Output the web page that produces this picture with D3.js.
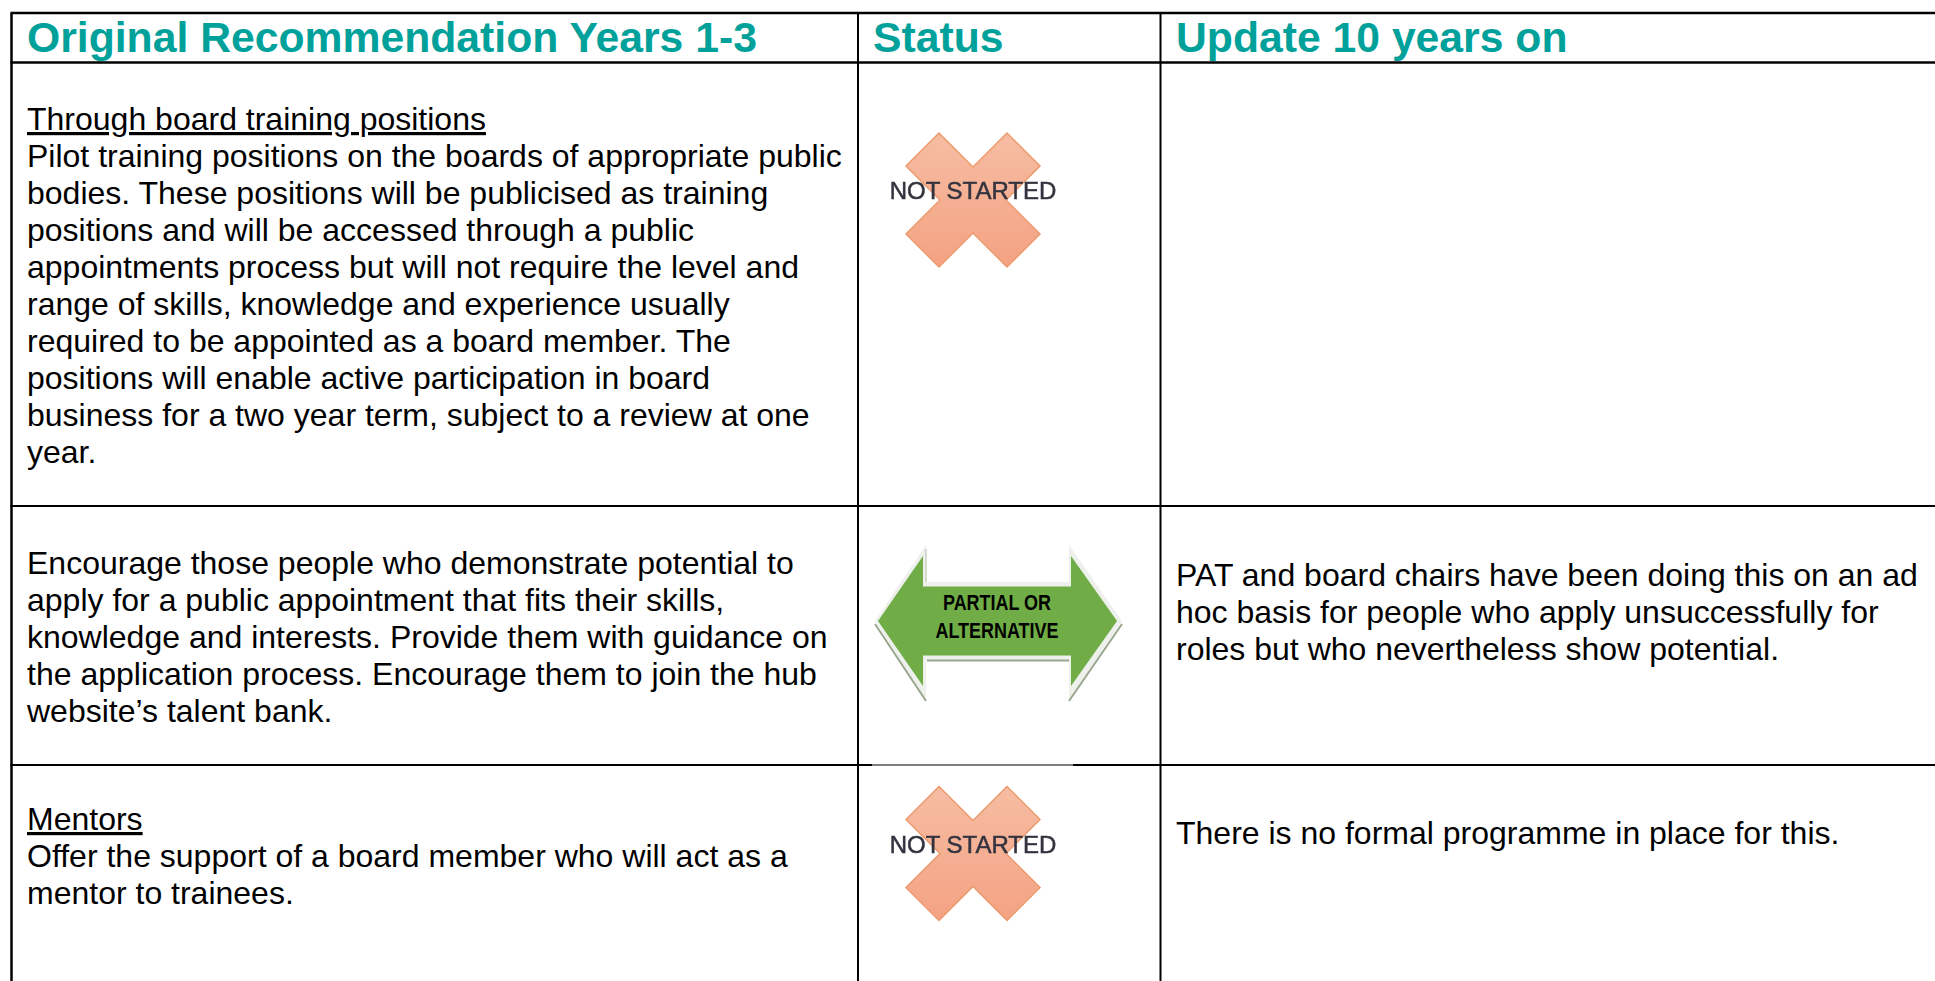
<!DOCTYPE html>
<html>
<head>
<meta charset="utf-8">
<script src="https://cdn.jsdelivr.net/npm/d3@7"></script>
<style>
  html, body { margin: 0; padding: 0; background: #fff; }
  svg { display: block; }
  text { font-family: "Liberation Sans", Arial, sans-serif; }
</style>
</head>
<body>
<div id="chart"></div>
<script>
const headers = ['Original Recommendation Years 1-3', 'Status', 'Update 10 years on'];
const rowTitles = ['Through board training positions', null, 'Mentors'];
const rowStatus = ['not', 'partial', 'not'];
const recommendationLines = [
  ['Pilot training positions on the boards of appropriate public',
   'bodies. These positions will be publicised as training',
   'positions and will be accessed through a public',
   'appointments process but will not require the level and',
   'range of skills, knowledge and experience usually',
   'required to be appointed as a board member. The',
   'positions will enable active participation in board',
   'business for a two year term, subject to a review at one',
   'year.'],
  ['Encourage those people who demonstrate potential to',
   'apply for a public appointment that fits their skills,',
   'knowledge and interests. Provide them with guidance on',
   'the application process. Encourage them to join the hub',
   'website\u2019s talent bank.'],
  ['Offer the support of a board member who will act as a',
   'mentor to trainees.']
];
const updateLines = [
  [],
  ['PAT and board chairs have been doing this on an ad',
   'hoc basis for people who apply unsuccessfully for',
   'roles but who nevertheless show potential.'],
  ['There is no formal programme in place for this.']
];
const partialLabel = ['PARTIAL OR', 'ALTERNATIVE'];

const width = 1935, height = 981;
const colEdges = [11.5, 858, 1160.5];
const rowEdges = [13, 62.5, 506, 765];
const textX = [27, 873, 1176];
const lineHeight = 37;
const firstBaseline = [130, 574, 830];
const updateBaseline = [0, 586, 844];
const iconCenter = [[973, 200], [997, 621], [973, 853.5]];

const svg = d3.select('#chart').append('svg')
  .attr('width', width).attr('height', height);

const defs = svg.append('defs');
const grad = defs.append('linearGradient').attr('id', 'xFill')
  .attr('x1', 0).attr('x2', 0).attr('y1', 0).attr('y2', 1);
grad.append('stop').attr('offset', '0%').attr('stop-color', '#f6bda3');
grad.append('stop').attr('offset', '100%').attr('stop-color', '#f4a283');
defs.append('filter').attr('id', 'soft')
  .append('feGaussianBlur').attr('stdDeviation', 0.6);
defs.append('filter').attr('id', 'softer')
  .append('feGaussianBlur').attr('stdDeviation', 0.35);

// grid
const grid = svg.append('g').attr('stroke', '#000');
rowEdges.forEach((y, i) => {
  if (i == 3) return;
  grid.append('line').attr('x1', colEdges[0] - 1).attr('x2', width)
    .attr('y1', y).attr('y2', y).attr('stroke-width', i == 0 || i == 1 ? 2.5 : 2);
});
// bottom rule is thinned where the pasted icon sits over it
[[colEdges[0] - 1, 872, 2.2], [872, 1073, 1.2], [1073, width, 2.2]].forEach(s => {
  grid.append('line').attr('x1', s[0]).attr('x2', s[1])
    .attr('y1', rowEdges[3]).attr('y2', rowEdges[3]).attr('stroke-width', s[2]);
});
colEdges.forEach((x, i) => {
  grid.append('line').attr('x1', x).attr('x2', x)
    .attr('y1', rowEdges[0]).attr('y2', height).attr('stroke-width', i == 0 ? 2.5 : 2);
});

// header
svg.selectAll('text.head').data(headers).enter().append('text')
  .attr('class', 'head')
  .attr('x', (d, i) => textX[i]).attr('y', 52)
  .attr('font-size', 42.7).attr('font-weight', 700).attr('fill', '#00a19a')
  .text(d => d);

// body
const body = svg.append('g').attr('font-size', 32).attr('fill', '#000');
recommendationLines.forEach((lines, r) => {
  let y = firstBaseline[r];
  if (rowTitles[r]) {
    body.append('text').attr('x', textX[0]).attr('y', y)
      .attr('text-decoration', 'underline').text(rowTitles[r]);
    y += lineHeight;
  }
  lines.forEach((t, i) => {
    body.append('text').attr('x', textX[0]).attr('y', y + i * lineHeight).text(t);
  });
});
updateLines.forEach((lines, r) => {
  lines.forEach((t, i) => {
    body.append('text').attr('x', textX[2]).attr('y', updateBaseline[r] + i * lineHeight).text(t);
  });
});

// status icons
const poly = d3.line().curve(d3.curveLinearClosed);
const crossShape = [[-34,-67],[0,-33],[34,-67],[67,-34],[33,0],[67,34],[34,67],[0,33],[-34,67],[-67,34],[-33,0],[-67,-34]];
const arrowShape = [[-119,0],[-74,-65],[-74,-34.5],[74,-34.5],[74,-65],[120,0],[74,65],[74,34.5],[-74,34.5],[-74,65]];
const arrowEdge = [[-122,0],[-71,-76],[-71,-39],[72,-39],[72,-76],[125,0],[72,80],[72,39],[-71,39],[-71,80]];

rowStatus.forEach((s, r) => {
  const g = svg.append('g').attr('transform', `translate(${iconCenter[r]})`);
  if (s == 'not') {
    g.append('path').attr('d', poly(crossShape))
      .attr('fill', 'url(#xFill)').attr('stroke', '#ee9a6c').attr('stroke-width', 1.5)
      .attr('filter', 'url(#soft)');
    g.append('text').attr('x', 0).attr('y', 0).attr('dy', -1)
      .attr('text-anchor', 'middle').attr('font-size', 24)
      .attr('fill', '#33333f').attr('stroke', '#33333f').attr('stroke-width', 0.5)
      .attr('filter', 'url(#soft)')
      .text('NOT STARTED');
  } else {
    g.append('path').attr('d', poly(arrowEdge))
      .attr('fill', '#eef0ec').attr('filter', 'url(#softer)');
    g.append('path').attr('d', 'M-122,3L-71,80M-70,39.5L72,39.5M125,3L72,80')
      .attr('fill', 'none').attr('stroke', '#9aa78f').attr('stroke-width', 2)
      .attr('filter', 'url(#softer)');
    g.append('path').attr('d', 'M-71,-72L-71,-39').attr('stroke', '#c8cfc5').attr('stroke-width', 1.5);
    g.append('path').attr('d', poly(arrowShape)).attr('fill', '#70ad47');
    g.selectAll('text').data(partialLabel).enter().append('text')
      .attr('x', 0).attr('y', (d, i) => -11 + i * 28)
      .attr('text-anchor', 'middle').attr('font-size', 22).attr('font-weight', 700)
      .attr('textLength', (d, i) => i == 0 ? 108 : 123)
      .attr('lengthAdjust', 'spacingAndGlyphs')
      .attr('fill', '#000').text(d => d);
  }
});
</script>
</body>
</html>
